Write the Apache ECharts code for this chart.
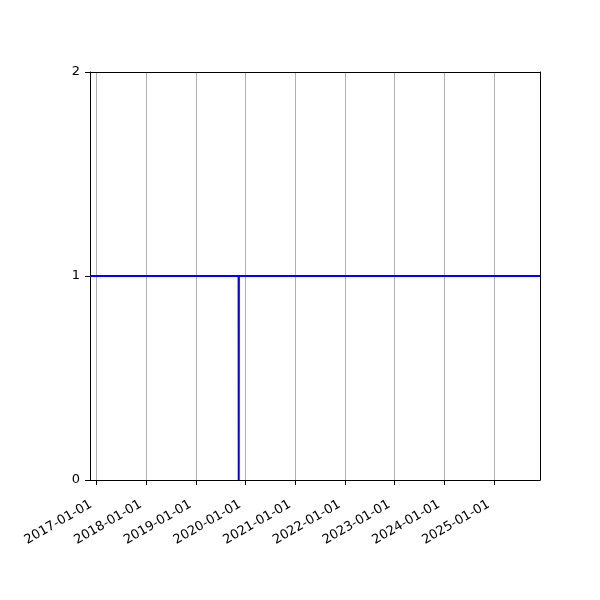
<!DOCTYPE html>
<html><head><meta charset="utf-8">
<script src="https://cdn.jsdelivr.net/npm/echarts@6/dist/echarts.min.js"></script>
<style>html,body{margin:0;padding:0;background:#fff}#c{width:600px;height:600px}</style>
</head><body><div id="c"></div>
<script>
const dates = ['2016-11-14', '2019-11-11', '2019-11-12', '2019-11-13', '2025-12-04'];
const values = [1, 1, 0, 1, 1];
const yTicks = [0, 1, 2];
const xMin = '2016-11-14';
const xMax = '2025-12-04';

const chart = echarts.init(document.getElementById('c'));
const YEAR = 365 * 24 * 3600 * 1000;
const frameAxis = { show: true, axisLine: { show: true, onZero: false, lineStyle: { color: '#000', width: 1 } }, axisTick: { show: false }, axisLabel: { show: false }, splitLine: { show: false } };
chart.setOption({
  animation: false,
  grid: { left: 90, right: 60, top: 72, bottom: 120, show: false },
  xAxis: [{
    type: 'time',
    min: xMin, max: xMax,
    minInterval: YEAR, maxInterval: YEAR + 2 * 24 * 3600 * 1000,
    axisLine: { show: true, onZero: false, lineStyle: { color: '#000', width: 1 } },
    axisTick: { show: true, length: 5, lineStyle: { color: '#000' } },
    minorTick: { show: false },
    splitLine: { show: true, lineStyle: { color: '#b0b0b0', width: 1 } },
    axisLabel: {
      rotate: 30, color: '#000', fontSize: 13, fontFamily: 'DejaVu Sans',
      align: 'right', verticalAlign: 'bottom', lineHeight: 15, padding: [0, 2, 0, 0],
      showMinLabel: false, showMaxLabel: false,
      formatter: '{yyyy}-{MM}-{dd}', margin: 29
    }
  }, Object.assign({ type: 'value', position: 'top', min: 0, max: 1 }, frameAxis)],
  yAxis: [{
    type: 'value', min: yTicks[0], max: yTicks[yTicks.length - 1], interval: 1,
    axisLine: { show: true, onZero: false, lineStyle: { color: '#000', width: 1 } },
    axisTick: { show: true, length: 5, lineStyle: { color: '#000' } },
    splitLine: { show: false },
    axisLabel: { color: '#000', fontSize: 13, fontFamily: 'DejaVu Sans', margin: 10 }
  }, Object.assign({ type: 'value', position: 'right', min: 0, max: 1 }, frameAxis)],
  series: [{
    type: 'line',
    data: dates.map((d, i) => [d, values[i]]),
    showSymbol: false,
    lineStyle: { color: '#0000ff', width: 2 },
    itemStyle: { color: '#0000ff' }
  }]
});
</script></body></html>
